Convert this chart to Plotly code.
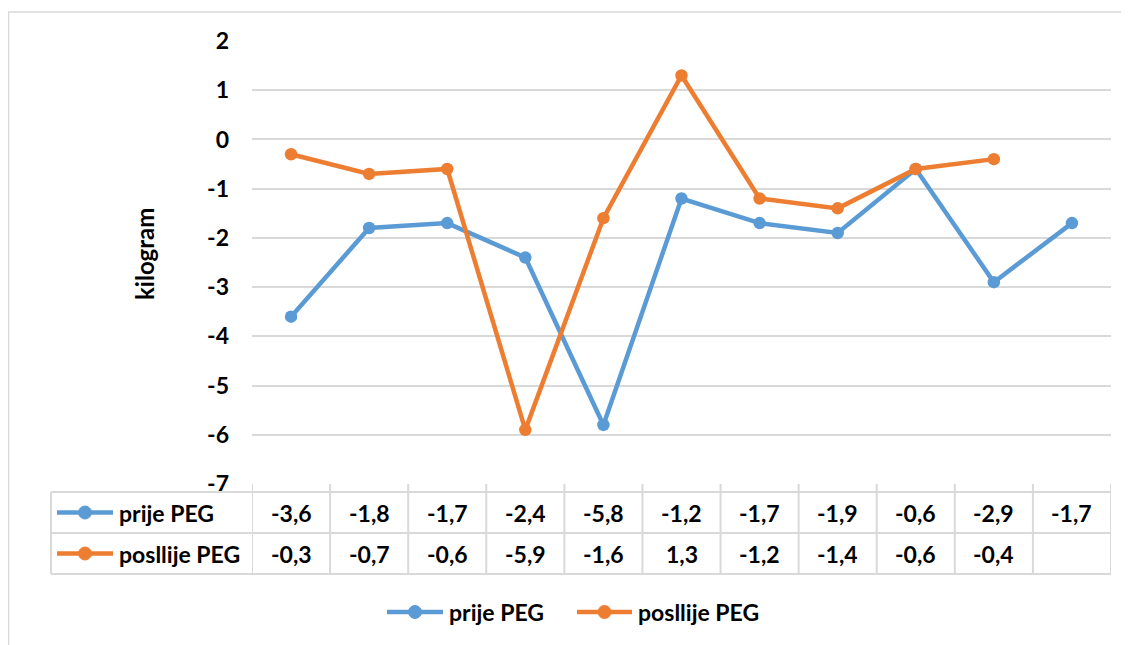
import plotly.graph_objects as go

# data (Excel line chart with data table)
categories = list(range(11))
series_names = ["prije PEG", "posllije PEG"]
prije = [-3.6, -1.8, -1.7, -2.4, -5.8, -1.2, -1.7, -1.9, -0.6, -2.9, -1.7]
poslije = [-0.3, -0.7, -0.6, -5.9, -1.6, 1.3, -1.2, -1.4, -0.6, -0.4, None]
colors = ["#5B9BD5", "#ED7D31"]
ytitle = "kilogram"
y_ticks = [-7, -6, -5, -4, -3, -2, -1, 0, 1, 2]
y_ticktext = ["-7", "-6", "-5", "-4", "-3", "-2", "-1", "0", "1", "2"]

FONT = "Lato"
GRID = "#D9D9D9"
FS = 23

# the page puts the figure 8px in from the corner, so the figure is 8px smaller
W, H = 1121, 637
L, R, T, B = 244, 18, 33, 161
pw, ph = W - L - R, H - T - B


# screen pixel -> paper coords
def px_x(p):
    return (p - 8 - L) / pw


def px_y(p):
    return (H - B - (p - 8)) / ph


def fmt(v):
    if v is None:
        return ""
    return ("%.1f" % v).replace(".", ",")


fig = go.Figure()
for name, vals, c in zip(series_names, [prije, poslije], colors):
    fig.add_trace(go.Scatter(x=categories, y=vals, name=name, mode="lines+markers",
                             line=dict(color=c, width=4.5),
                             marker=dict(color=c, size=12.5), connectgaps=False,
                             showlegend=False))

shapes = []
annotations = []


def key(x0, x1, y, c):
    # a legend key: thick line with a dot in the middle
    shapes.append(dict(type="line", xref="paper", yref="paper", x0=px_x(x0), x1=px_x(x1),
                       y0=px_y(y), y1=px_y(y), line=dict(color=c, width=4.5)))
    r = 6.5
    xm = (x0 + x1) / 2
    shapes.append(dict(type="circle", xref="paper", yref="paper",
                       x0=px_x(xm - r), x1=px_x(xm + r), y0=px_y(y + r), y1=px_y(y - r),
                       fillcolor=c, line=dict(color=c, width=1)))


def label(text, x, y, anchor="left", xref="paper"):
    annotations.append(dict(text="<b>" + text + "</b>", xref=xref, yref="paper", x=x, y=y,
                            xanchor=anchor, yanchor="middle", showarrow=False,
                            font=dict(family=FONT, size=FS, color="#000000")))


# table grid
lc = dict(color=GRID, width=2)
for yy in [492, 533, 574]:
    shapes.append(dict(type="line", xref="paper", yref="paper", x0=px_x(51), x1=1,
                       y0=px_y(yy), y1=px_y(yy), line=lc))
shapes.append(dict(type="line", xref="paper", yref="paper", x0=px_x(51), x1=px_x(51),
                   y0=px_y(492), y1=px_y(574), line=lc))
for k in range(len(categories) + 1):
    shapes.append(dict(type="line", xref="x", yref="paper", x0=k - 0.5, x1=k - 0.5,
                       y0=0, y1=px_y(574), line=lc))

row_centers = [512.5, 553.5]
for rc, name, vals, c in zip(row_centers, series_names, [prije, poslije], colors):
    key(57, 113, rc, c)
    label(name, px_x(117), px_y(rc))
    for cat, v in zip(categories, vals):
        label(fmt(v), cat, px_y(rc), anchor="center", xref="x")

# bottom legend
key(387, 443, 612, colors[0])
label(series_names[0], px_x(447), px_y(612))
key(577, 632, 612, colors[1])
label(series_names[1], px_x(636), px_y(612))

# y axis title
annotations.append(dict(text="<b>" + ytitle + "</b>", xref="paper", yref="paper",
                        x=px_x(145), y=px_y(254), xanchor="center", yanchor="middle",
                        textangle=-90, showarrow=False,
                        font=dict(family=FONT, size=24, color="#000000")))

# outer chart border
shapes.append(dict(type="rect", xref="paper", yref="paper", x0=px_x(8.5), x1=px_x(1140),
                   y0=px_y(12), y1=px_y(660), line=dict(color=GRID, width=1.5),
                   layer="below"))

fig.update_layout(
    width=W, height=H,
    margin=dict(l=L, r=R, t=T, b=B),
    paper_bgcolor="white", plot_bgcolor="white",
    font=dict(family=FONT, size=FS, color="#000000"),
    shapes=shapes, annotations=annotations,
    showlegend=False,
)
fig.update_xaxes(range=[-0.5, 10.5], showticklabels=False, showgrid=False,
                 zeroline=False, showline=False, fixedrange=True)
fig.update_yaxes(range=[-7, 2], tickvals=y_ticks,
                 ticktext=["<b>" + t + "</b>" for t in y_ticktext],
                 gridcolor=GRID, gridwidth=1.5,
                 zeroline=False, showline=False, ticks="", ticklabelstandoff=22,
                 automargin=False,
                 tickfont=dict(family=FONT, size=FS, color="#000000"))

fig.write_html("out.html")
